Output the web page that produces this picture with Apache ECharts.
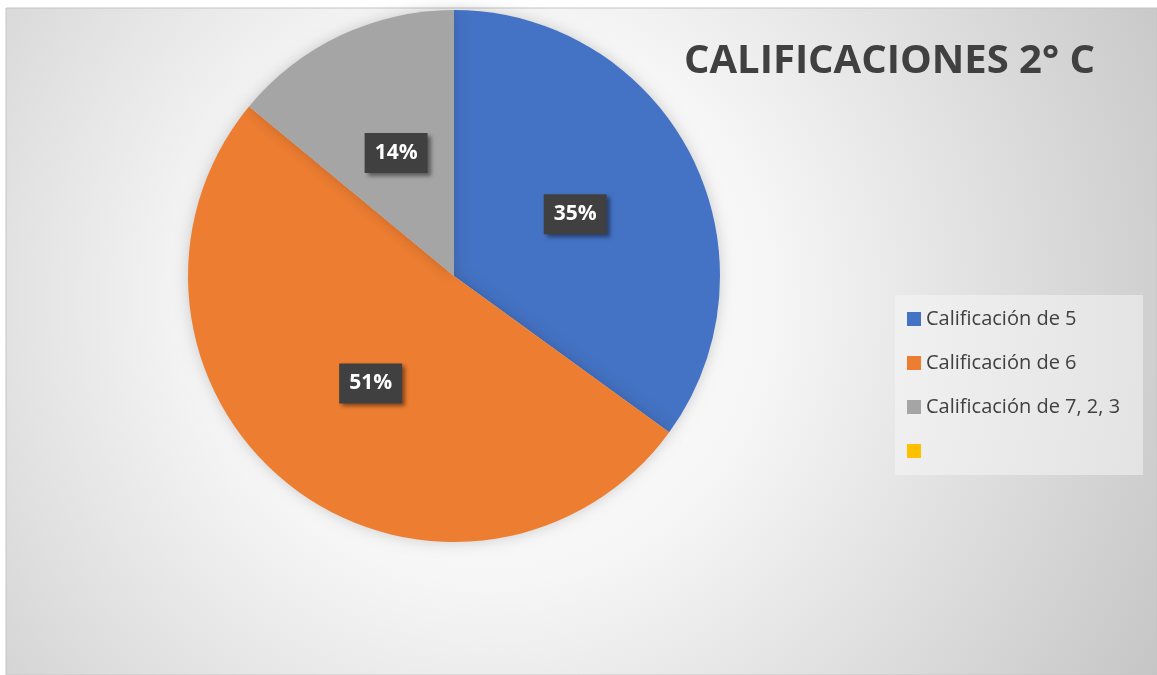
<!DOCTYPE html>
<html>
<head>
<meta charset="utf-8">
<style>
  html, body { margin: 0; padding: 0; background: #fff; }
  #chart { width: 1157px; height: 675px; }
</style>
<script src="https://cdn.jsdelivr.net/npm/echarts@6/dist/echarts.min.js"></script>
</head>
<body>
<div id="chart"></div>
<script>
// datos del gráfico
const categories = ['Calificación de 5', 'Calificación de 6', 'Calificación de 7, 2, 3', ' ']
const values = [35, 51, 14, 0]
const colors = ['#4472c4', '#ed7d31', '#a5a5a5', '#ffc000']
const titleText = 'CALIFICACIONES 2° C'

const chart = echarts.init(document.getElementById('chart'))

chart.setOption({
  animation: false,
  color: colors,
  title: {
    text: titleText,
    left: 684,
    top: 42,
    padding: 0,
    textStyle: {
      fontFamily: 'Open Sans',
      fontWeight: 'bold',
      fontSize: 40,
      color: '#404040'
    }
  },
  legend: {
    orient: 'vertical',
    left: 907,
    top: 309,
    padding: 0,
    itemWidth: 14,
    itemHeight: 14,
    itemGap: 24,
    icon: 'rect',
    data: categories,
    textStyle: {
      fontFamily: 'Open Sans',
      fontSize: 20,
      lineHeight: 20,
      color: '#404040'
    }
  },
  graphic: [
    {
      type: 'rect',
      z: -10,
      silent: true,
      shape: { x: 6, y: 8, width: 1151, height: 667 },
      style: {
        fill: {
          type: 'radial', x: 0.42, y: 0.44, r: 1.2,
          colorStops: [
            { offset: 0, color: '#ffffff' },
            { offset: 0.35, color: '#f6f6f6' },
            { offset: 1, color: '#c2c2c2' }
          ]
        },
        stroke: '#c4c4c4',
        lineWidth: 1
      }
    },
    {
      type: 'rect',
      z: -9,
      silent: true,
      shape: { x: 895, y: 295, width: 248, height: 180 },
      style: { fill: 'rgba(248,248,248,0.5)' }
    }
  ],
  series: [
    {
      type: 'pie',
      center: [454, 276],
      radius: 266,
      startAngle: 90,
      clockwise: true,
      itemStyle: {
        borderWidth: 0,
        shadowBlur: 14,
        shadowColor: 'rgba(0,0,0,0.18)'
      },
      label: {
        position: 'inside',
        formatter: p => Math.round(p.percent) + '%',
        color: '#ffffff',
        fontFamily: 'Open Sans',
        fontWeight: 'bold',
        fontSize: 21,
        backgroundColor: '#404040',
        padding: [10, 10, 9, 10],
        shadowColor: 'rgba(0,0,0,0.45)',
        shadowBlur: 4,
        shadowOffsetX: 3,
        shadowOffsetY: 3
      },
      labelLine: { show: false },
      data: categories.map((name, i) => ({
        name: name,
        value: values[i],
        label: { show: values[i] > 0 }
      }))
    }
  ]
})
</script>
</body>
</html>
